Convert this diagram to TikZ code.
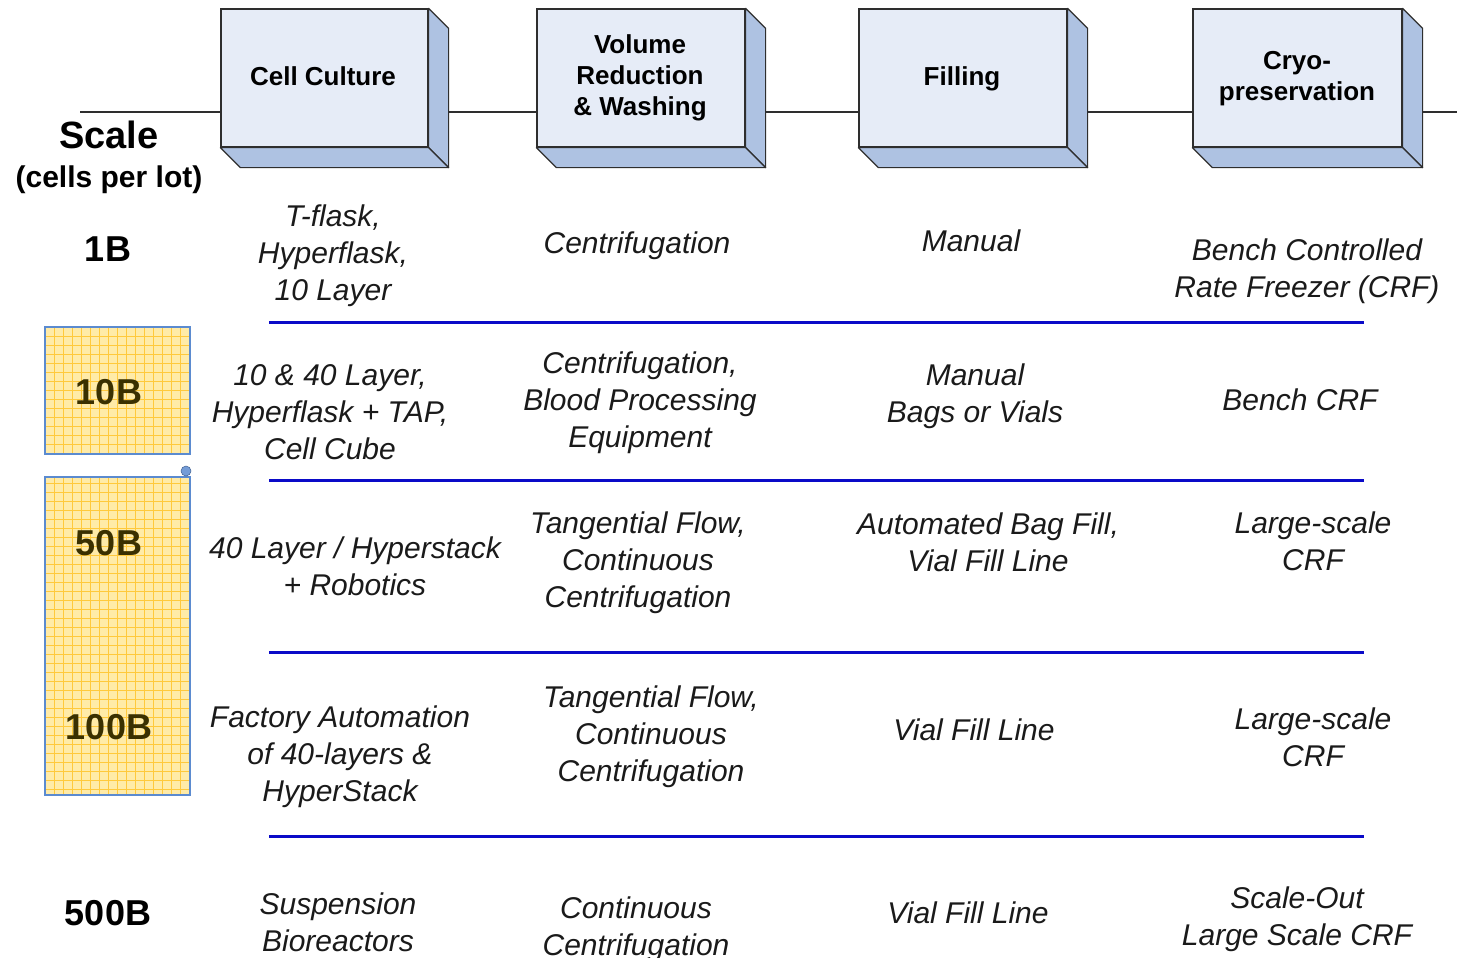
\documentclass[tikz,border=0pt]{standalone}
\usepackage{fontspec}
\setmainfont{Liberation Sans}
\usetikzlibrary{calc}
\definecolor{front}{HTML}{E6ECF7}
\definecolor{side}{HTML}{AEC2E2}
\definecolor{edge}{HTML}{2E2E2E}
\definecolor{rule}{HTML}{0A0AC8}
\definecolor{txt}{HTML}{1A1A1A}
\definecolor{gold}{HTML}{FFEBA8}
\definecolor{goldgrid}{HTML}{FFC93C}
\definecolor{boxline}{HTML}{5B8BD0}
\definecolor{goldtxt}{HTML}{3A3000}
\tikzset{
  hdr/.style={draw=edge, fill=front, line width=1.2pt, inner sep=0pt,
    minimum height=138pt},
  hdrtext/.style={align=center, text=black, inner sep=0pt,
    font=\bfseries\fontsize{26}{31}\selectfont},
  face/.style={draw=edge, fill=side, line width=1.2pt, line join=round},
  cell/.style={align=center, text=txt, inner sep=0pt,
    font=\itshape\fontsize{30}{37}\selectfont},
  scalelbl/.style={text=black, inner sep=0pt,
    font=\bfseries\fontsize{36}{40}\selectfont},
  lotbox/.style={draw=boxline, line width=1.2pt, fill=gold, minimum width=145pt,
    inner sep=0pt,
    path picture={\draw[goldgrid, line width=0.5pt, step=9pt]
      (path picture bounding box.south west) grid (path picture bounding box.north east);}},
  lotlbl/.style={text=goldtxt, inner sep=0pt, font=\bfseries\fontsize{36}{40}\selectfont},
  divider/.style={draw=rule, line width=3pt},
}
\begin{document}
\begin{tikzpicture}[x=1pt, y=-1pt]
\useasboundingbox[fill=white] (0,0) rectangle (1457,958);

% process line behind the step boxes
\coordinate (lineL) at (80,112);
\coordinate (lineR) at (1457,112);
\draw[edge, line width=1.2pt] (lineL) -- (lineR);

% process steps drawn as raised blocks
\foreach \name/\cx/\w in {cc/324.5/207, vr/641/208, fi/963/208, cr/1297.5/209}{
  \node[hdr, minimum width=\w pt] (\name) at (\cx,78) {};
  \draw[face] (\name.north east) -- ($(\name.north east)+(20,20)$)
    -- ($(\name.south east)+(20,20)$) -- (\name.south east) -- cycle;
  \draw[face] (\name.south west) -- ($(\name.south west)+(20,20)$)
    -- ($(\name.south east)+(20,20)$) -- (\name.south east) -- cycle;
}
\node[hdrtext] (cct) at (323,76) {Cell Culture};
\node[hdrtext] (vrt) at (640,78) {Volume\\Reduction\\\& Washing};
\node[hdrtext] (fit) at (962,79) {Filling};
\node[hdrtext] (crt) at (1297,79) {Cryo-\\preservation};

% scale column
\node[text=black, inner sep=0pt, font=\bfseries\fontsize{38}{42}\selectfont] (scale) at (109,135) {Scale};
\node[text=black, inner sep=0pt, font=\bfseries\fontsize{30}{34}\selectfont] (perlot) at (109,180) {(cells per lot)};
\node[scalelbl] (s1) at (108,249) {1B};

\node[lotbox, minimum height=127pt] (boxA) at (117.5,390.5) {};
\node[lotbox, minimum height=318pt] (boxB) at (117.5,636) {};
\node[circle, fill=boxline!85!white, draw=boxline!70!black, line width=0.5pt,
  minimum size=10pt, inner sep=0pt] (handle) at (186,471) {};
\node[lotlbl] (s10) at (109,392) {10B};
\node[lotlbl] (s50) at (109,543) {50B};
\node[lotlbl] (s100) at (109,727) {100B};
\node[scalelbl] (s500) at (108,913) {500B};

% row dividers
\foreach \y/\n in {322/a,480/b,652/c,836/d}{
  \coordinate (\n L) at (269,\y);
  \coordinate (\n R) at (1364,\y);
  \draw[divider] (\n L) -- (\n R);
}

% row 1B
\node[cell] (c11) at (333,256) {T-flask,\\Hyperflask,\\10 Layer};
\node[cell] (c12) at (637,246) {Centrifugation};
\node[cell] (c13) at (971,241) {Manual};
\node[cell] (c14) at (1307,271) {Bench Controlled\\Rate Freezer (CRF)};

% row 10B
\node[cell] (c21) at (330,412) {10 \& 40 Layer,\\Hyperflask + TAP,\\Cell Cube};
\node[cell] (c22) at (640,403) {Centrifugation,\\Blood Processing\\Equipment};
\node[cell] (c23) at (975,396) {Manual\\Bags or Vials};
\node[cell] (c24) at (1300,400) {Bench CRF};

% row 50B
\node[cell] (c31) at (355,566) {40 Layer / Hyperstack\\+ Robotics};
\node[cell] (c32) at (638,563) {Tangential Flow,\\Continuous\\Centrifugation};
\node[cell] (c33) at (988,542) {Automated Bag Fill,\\Vial Fill Line};
\node[cell] (c34) at (1313,541) {Large-scale\\CRF};

% row 100B
\node[cell] (c41) at (340,757) {Factory Automation\\of 40-layers \&\\HyperStack};
\node[cell] (c42) at (651,737) {Tangential Flow,\\Continuous\\Centrifugation};
\node[cell] (c43) at (974,730) {Vial Fill Line};
\node[cell] (c44) at (1313,737) {Large-scale\\CRF};

% row 500B
\node[cell] (c51) at (338,922) {Suspension\\Bioreactors};
\node[cell] (c52) at (636,929) {Continuous\\Centrifugation};
\node[cell] (c53) at (968,913) {Vial Fill Line};
\node[cell] (c54) at (1297,919) {Scale-Out\\Large Scale CRF};
\end{tikzpicture}
\end{document}
